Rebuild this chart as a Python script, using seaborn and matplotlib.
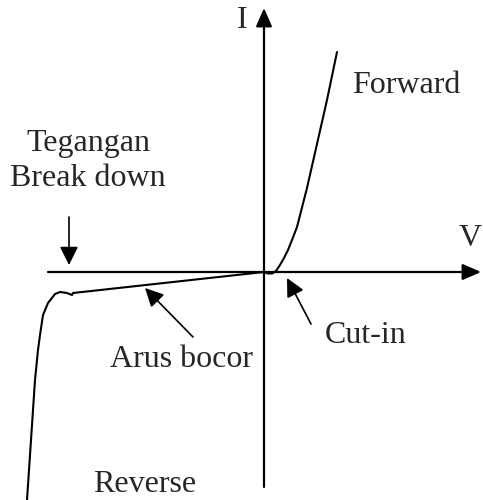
import matplotlib
matplotlib.use("Agg")
import matplotlib.pyplot as plt
import seaborn as sns
import pandas as pd

# Diode I-V characteristic (schematic units)
forward_v = [0, 4, 8, 12, 16, 20, 24, 28, 33, 43, 53, 63, 73]
forward_i = [0, -1.5, -1.5, 1, 7, 14, 22, 32, 45, 84, 128, 172, 220]

reverse_v = [0, -191, -192, -197, -204, -209, -216, -221, -224, -226, -229, -237]
reverse_i = [0, -21, -23, -21, -20, -22, -31, -43, -63, -78, -108, -228]

axis_labels = ["V", "I"]
annotations = ["Forward", "Tegangan", "Break down", "Arus bocor", "Cut-in", "Reverse"]

sns.set_style("white")
plt.rcParams["font.family"] = ["Liberation Serif", "DejaVu Serif"]

fig = plt.figure(figsize=(4.83, 5.0), dpi=100)
ax = fig.add_axes([0, 0, 1, 1])
ax.set_xlim(-264, 219)
ax.set_ylim(-228, 272)
ax.axis("off")

# axes with arrows
ax.annotate("", xy=(217, 0), xytext=(-216, 0),
            arrowprops=dict(arrowstyle="-|>,head_length=0.8,head_width=0.35",
                            mutation_scale=14, lw=1.6, color="black",
                            shrinkA=0, shrinkB=0))
ax.annotate("", xy=(0, 264), xytext=(0, -215),
            arrowprops=dict(arrowstyle="-|>,head_length=0.8,head_width=0.35",
                            mutation_scale=14, lw=1.6, color="black",
                            shrinkA=0, shrinkB=0))

df_f = pd.DataFrame({"V": forward_v, "I": forward_i})
df_r = pd.DataFrame({"V": reverse_v, "I": reverse_i})
sns.lineplot(data=df_f, x="V", y="I", sort=False, color="black", lw=1.5, ax=ax)
sns.lineplot(data=df_r, x="V", y="I", sort=False, color="black", lw=1.5, ax=ax)

fs = 23
ax.text(-22, 252, axis_labels[1], fontsize=fs, ha="center", va="center")
ax.text(206, 34, axis_labels[0], fontsize=fs, ha="center", va="center")
ax.text(88, 179, annotations[0], fontsize=fs, ha="left", va="baseline")
ax.text(-176, 121, annotations[1], fontsize=fs, ha="center", va="baseline")
ax.text(-176, 86, annotations[2], fontsize=fs, ha="center", va="baseline")
ax.text(-11, -95, annotations[3], fontsize=fs, ha="right", va="baseline")
ax.text(61, -71, annotations[4], fontsize=fs, ha="left", va="baseline")
ax.text(-171, -220, annotations[5], fontsize=fs, ha="left", va="baseline")

arrow_kw = dict(arrowstyle="-|>,head_length=0.8,head_width=0.4",
                mutation_scale=14, lw=1.2, color="black", shrinkA=0, shrinkB=0)
# break down arrow
ax.annotate("", xy=(-195, 7), xytext=(-195, 55), arrowprops=arrow_kw)
# arus bocor arrow
ax.annotate("", xy=(-119, -16), xytext=(-71, -65), arrowprops=arrow_kw)
# cut-in arrow
ax.annotate("", xy=(23, -6), xytext=(47, -52), arrowprops=arrow_kw)

fig.savefig("out.png", dpi=100)
